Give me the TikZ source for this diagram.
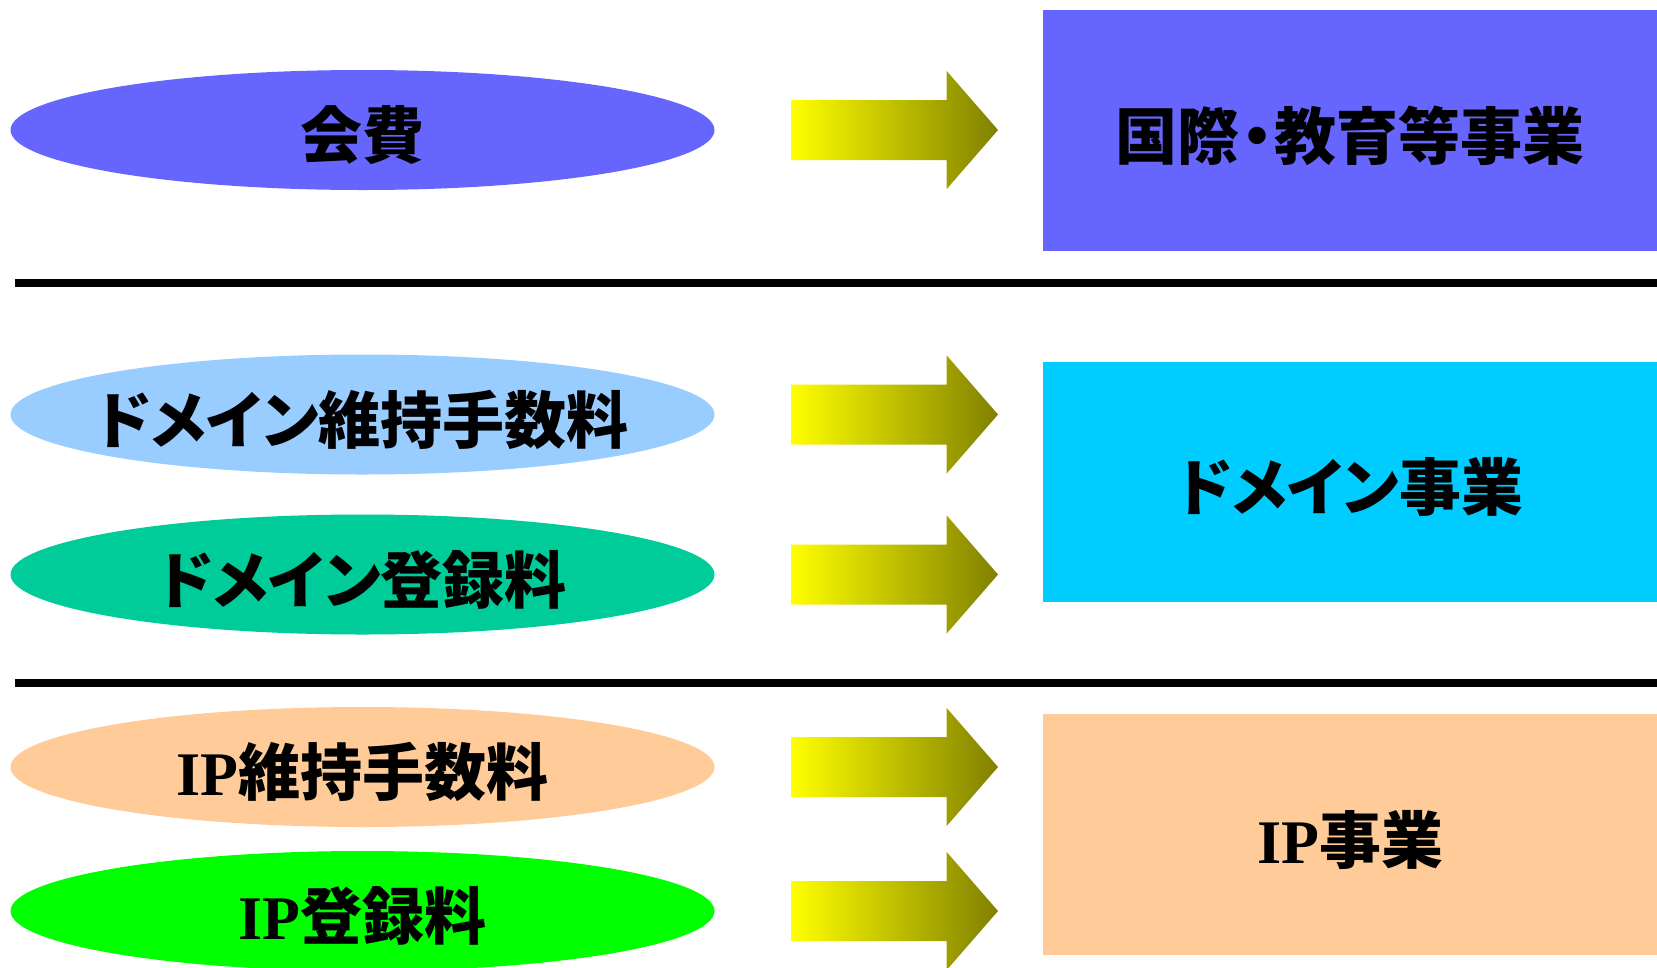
\documentclass[tikz,border=0pt]{standalone}
\usepackage{fontspec}
\setmainfont{Liberation Serif}
\newfontfamily\jp{Noto Sans CJK JP}
\newfontfamily\jpk{Noto Sans CJK JP}[RawFeature=+palt]
\usetikzlibrary{shapes.geometric}
\definecolor{cBlue}{RGB}{102,102,255}
\definecolor{cLight}{RGB}{153,204,255}
\definecolor{cTeal}{RGB}{0,204,153}
\definecolor{cCyan}{RGB}{0,204,255}
\definecolor{cPeach}{RGB}{255,204,153}
\definecolor{cGreen}{RGB}{0,255,0}
\definecolor{arrdark}{RGB}{128,128,0}
\tikzset{
  src/.style={ellipse, minimum width=704pt, minimum height=120pt, inner sep=0pt, draw=none},
  dst/.style={rectangle, minimum width=614pt, inner sep=0pt, draw=none},
  lbl/.style={inner sep=0pt, yshift=-5pt, font=\fontsize{62}{70}\selectfont\bfseries},
  divider/.style={line width=8pt, black},
  blockarr/.pic={\shade[left color=yellow, right color=arrdark]
    (0,-30) -- (155.7,-30) -- (155.7,-59) -- (207,0) -- (155.7,59) -- (155.7,30) -- (0,30) -- cycle;}
}
\begin{document}
\begin{tikzpicture}[x=1pt,y=-1pt]
\useasboundingbox[fill=white] (0,0) rectangle (1657,967);
% sources
\node[src, fill=cBlue]  (e1) at (362.5,130)   {};
\node[src, fill=cLight] (e2) at (362.5,414.5) {};
\node[src, fill=cTeal]  (e3) at (362.5,574.5) {};
\node[src, fill=cPeach] (e4) at (362.5,767)   {};
\node[src, fill=cGreen] (e5) at (362.5,911)   {};
\node[lbl] (t1) at (e1.center) {\jp 会費};
\node[lbl] (t2) at (e2.center) {\jpk ドメイン\jp 維持手数料};
\node[lbl] (t3) at (e3.center) {\jpk ドメイン\jp 登録料};
\node[lbl] (t4) at (e4.center) {IP\jp 維持手数料};
\node[lbl] (t5) at (e5.center) {IP\jp 登録料};
% targets
\node[dst, fill=cBlue,  minimum height=241pt] (b1) at (1350,130.5) {};
\node[dst, fill=cCyan,  minimum height=240pt] (b2) at (1350,482)   {};
\node[dst, fill=cPeach, minimum height=241pt] (b3) at (1350,834.5) {};
\node[lbl] (u1) at (b1.center) {\jp 国際\hspace{-0.22em}・\hspace{-0.22em}教育等事業};
\node[lbl] (u2) at (b2.center) {\jpk ドメイン\jp 事業};
\node[lbl] (u3) at (b3.center) {IP\jp 事業};
% arrows
\pic at (791,130)   {blockarr};
\pic at (791,414.5) {blockarr};
\pic at (791,574.5) {blockarr};
\pic at (791,767)   {blockarr};
\pic at (791,911)   {blockarr};
% dividers
\draw[divider] (15,282.5) -- (1657,282.5);
\draw[divider] (15,682.7) -- (1657,682.7);
\end{tikzpicture}
\end{document}
